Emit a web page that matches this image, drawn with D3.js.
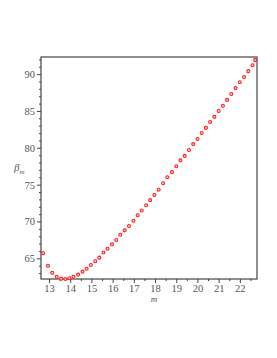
<!DOCTYPE html>
<html>
<head>
<meta charset="utf-8">
<script src="https://cdn.jsdelivr.net/npm/d3@7"></script>
<style>
  body { margin: 0; background: #fff; }
  text { font-family: "Liberation Serif", "DejaVu Serif", serif; }
</style>
</head>
<body>
<div class="chart"></div>
<script>
const width = 277
const height = 358

// m values and beta_m values
const mValues = [
    12.72, 12.95, 13.15, 13.36, 13.57, 13.77, 13.96, 14.15, 14.37, 14.58,
    14.77, 14.97, 15.18, 15.37, 15.57, 15.76, 15.97, 16.17, 16.36, 16.57,
    16.77, 16.98, 17.18, 17.37, 17.58, 17.77, 17.97, 18.17, 18.38, 18.58,
    18.80, 19.00, 19.20, 19.40, 19.60, 19.80, 20.00, 20.20, 20.40, 20.60,
    20.80, 21.00, 21.20, 21.40, 21.60, 21.80, 22.00, 22.20, 22.40, 22.60, 22.72
]
const betaValues = [
    65.7, 64.0, 63.05, 62.5, 62.25, 62.2, 62.3, 62.5, 62.8, 63.2,
    63.6, 64.1, 64.6, 65.1, 65.8, 66.3, 66.9, 67.5, 68.2, 68.8,
    69.4, 70.1, 70.85, 71.5, 72.2, 72.9, 73.6, 74.3, 75.2, 76.0,
    76.7, 77.5, 78.3, 78.9, 79.7, 80.5, 81.2, 82.0, 82.7, 83.5,
    84.2, 85.0, 85.7, 86.5, 87.3, 88.1, 88.9, 89.6, 90.4, 91.2, 91.9
]
const xTicks = [13, 14, 15, 16, 17, 18, 19, 20, 21, 22]
const yTicks = [65, 70, 75, 80, 85, 90]

const data = mValues.map((m, i) => ({m: m, beta: betaValues[i]}))

const margin = {top: 57, right: 20, bottom: 79, left: 41}
const innerWidth = width - margin.left - margin.right
const innerHeight = height - margin.top - margin.bottom

const svg = d3.select(".chart")
    .append("svg")
    .attr("width", width)
    .attr("height", height)

const xScale = d3.scaleLinear()
    .domain([12.62, 22.81])
    .range([0, innerWidth])

const yScale = d3.scaleLinear()
    .domain([62.2, 92.32])
    .range([innerHeight, 0])

const g = svg.append("g")
    .attr("transform", `translate(${margin.left}, ${margin.top})`)

const axisColor = "#444"
const labelColor = "#555"

// minor ticks
const xMinor = d3.range(12.5, 23, 0.5).filter(v => v > 12.62 && v < 22.81 && !xTicks.includes(v))
const yMinor = d3.range(63, 93, 1).filter(v => !yTicks.includes(v))

g.append("g")
    .attr("transform", `translate(0, ${innerHeight})`)
    .call(d3.axisBottom(xScale).tickValues(xTicks).tickSize(4).tickPadding(2).tickFormat(d3.format("d")))
g.append("g")
    .attr("class", "minor")
    .attr("transform", `translate(0, ${innerHeight})`)
    .call(d3.axisBottom(xScale).tickValues(xMinor).tickSize(2))

g.append("g")
    .call(d3.axisLeft(yScale).tickValues(yTicks).tickSize(4).tickPadding(2).tickFormat(d3.format("d")))
g.append("g")
    .attr("class", "minor")
    .call(d3.axisLeft(yScale).tickValues(yMinor).tickSize(2))

g.selectAll(".minor text").remove()
g.selectAll(".domain").remove()
g.selectAll(".tick line").attr("stroke", axisColor)
g.selectAll(".tick text")
    .attr("fill", labelColor)
    .style("font-size", "10.5px")

// frame
g.append("rect")
    .attr("x", 0)
    .attr("y", 0)
    .attr("width", innerWidth)
    .attr("height", innerHeight)
    .attr("fill", "none")
    .attr("stroke", axisColor)
    .attr("stroke-width", 1.2)

// points
g.selectAll("circle.pt")
    .data(data)
    .enter().append("circle")
        .attr("class", "pt")
        .attr("cx", d => xScale(d.m))
        .attr("cy", d => yScale(d.beta))
        .attr("r", 1.5)
        .attr("fill", "#ffd0d0")
        .attr("stroke", "#ff2020")
        .attr("stroke-width", 1.1)

// axis titles
svg.append("text")
    .attr("x", margin.left + xScale(17.95))
    .attr("y", 302)
    .attr("text-anchor", "middle")
    .attr("fill", labelColor)
    .style("font-size", "9px")
    .style("font-style", "italic")
    .text("m")

const yTitle = svg.append("text")
    .attr("x", 14)
    .attr("y", 171)
    .attr("fill", labelColor)
    .style("font-size", "11px")
    .style("font-style", "italic")
yTitle.append("tspan").text("β")
yTitle.append("tspan")
    .attr("dy", 3)
    .style("font-size", "7px")
    .text("m")
</script>
</body>
</html>
